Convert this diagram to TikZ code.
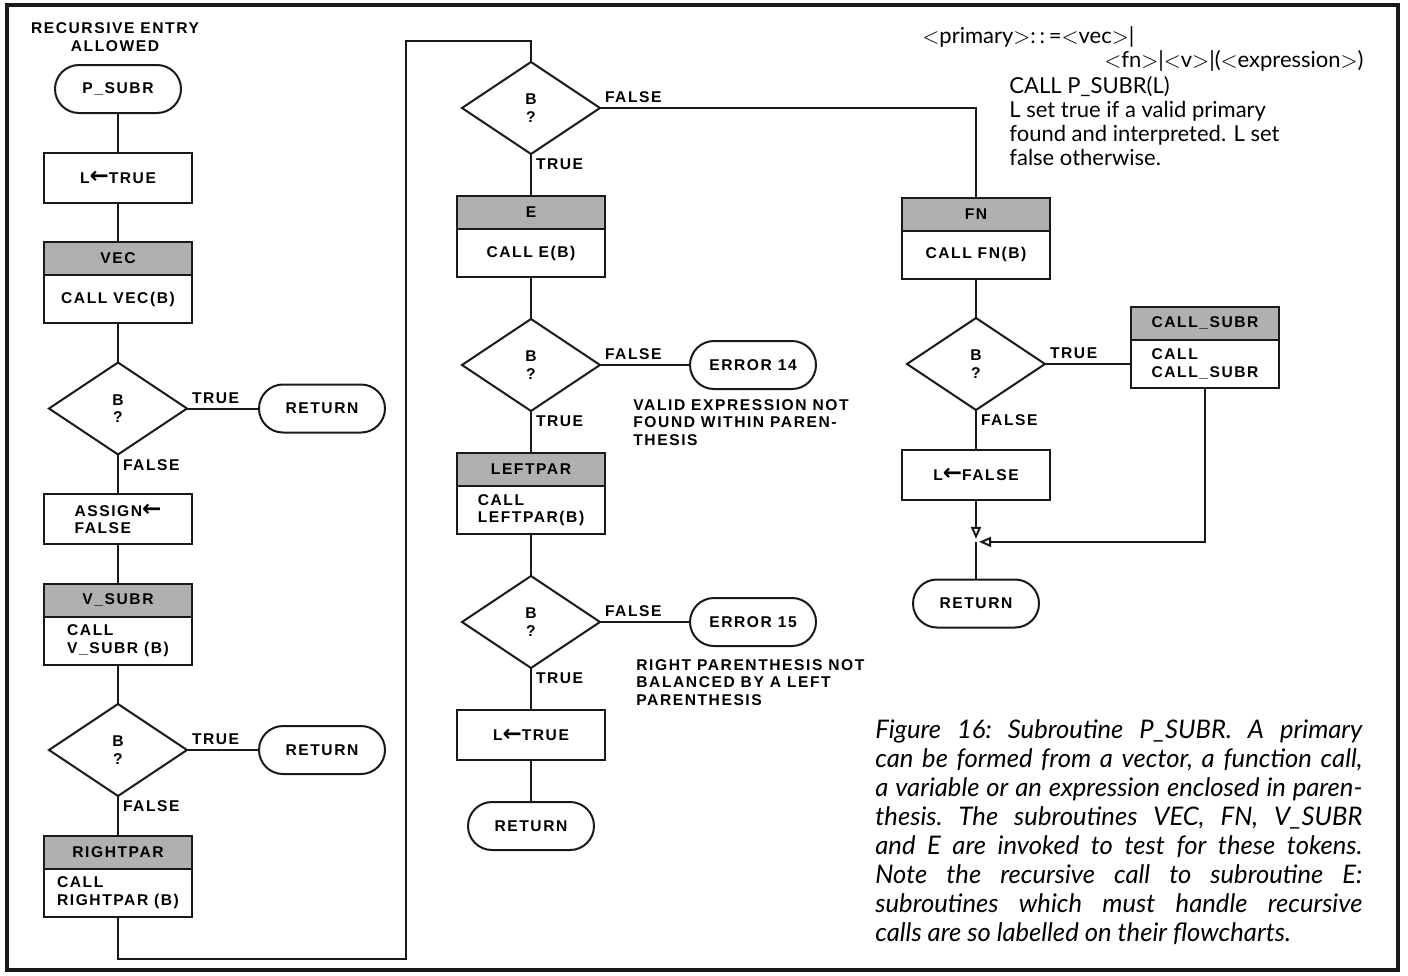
\documentclass[tikz,border=0pt]{standalone}
\usepackage{fontspec}
\newfontfamily\leroy[LetterSpace=10]{Liberation Sans}
\newfontfamily\arrowfont{DejaVu Sans}
\newfontfamily\humanist{Lato}
\usetikzlibrary{arrows.meta,positioning,shapes.geometric}
\definecolor{ink}{RGB}{25,25,25}
\definecolor{hdrgray}{RGB}{176,176,176}
\newcommand{\boxfont}{\leroy\bfseries\fontsize{7.8}{8.7}\selectfont}
\newcommand{\assignarrow}{\raisebox{-0.3pt}{\arrowfont\bfseries\fontsize{11.5}{9}\selectfont ←}}
\newcommand{\ang}[1]{$<$#1$>$}
\tikzset{
  term/.style={draw=ink,line width=1pt,rounded corners=12pt,minimum width=63pt,
    minimum height=24pt,inner sep=2pt,outer sep=0pt},
  proc/.style={draw=ink,line width=1pt,minimum width=74pt,minimum height=25pt,
    inner sep=2pt,align=left,outer sep=0pt},
  hdrbox/.style={proc,fill=hdrgray,minimum height=16.5pt},
  callbox/.style={proc,minimum height=24pt},
  dec/.style={draw=ink,line width=1pt,diamond,minimum width=69pt,minimum height=46pt,
    inner sep=0pt,align=center,outer sep=0pt},
  flow/.style={draw=ink,line width=1pt},
  ar/.style={flow,-{Triangle[open,length=6pt,width=5pt]},shorten >=1.5pt},
  tag/.style={inner sep=2pt},
  note/.style={align=left,inner sep=0pt},
  spec/.style={font=\humanist\fontsize{11}{12}\selectfont,inner sep=0pt},
  capt/.style={font=\humanist\itshape\fontsize{12.8}{14.5}\selectfont\frenchspacing,
    text width=243.5pt,align=justify,inner sep=0pt},
}

\begin{document}
\begin{tikzpicture}[x=0.5pt,y=-0.5pt,node distance=19.75pt,every node/.style={font=\boxfont}]
  \useasboundingbox (0,0) rectangle (1408,975);
  \draw[ink,line width=1.6pt] (7,5) rectangle (1398,970);

  % left column
  \node[note,align=center] (recur) at (115,37) {RECURSIVE ENTRY\\ALLOWED};
  \node[term] (start) at (118,89) {P\_SUBR};
  \node[proc,below=of start] (ltrue) {L\assignarrow TRUE};
  \node[hdrbox,below=of ltrue] (vech) {VEC};
  \node[callbox,below=0pt of vech] (vec) {CALL VEC(B)};
  \node[dec,below=of vec] (d1) {B\\?};
  \node[term,right=36pt of d1] (retvec) {RETURN};
  \node[proc,below=of d1] (assign) {ASSIGN\assignarrow\\FALSE};
  \node[hdrbox,below=of assign] (vsubh) {V\_SUBR};
  \node[callbox,below=0pt of vsubh] (vsub) {CALL\\V\_SUBR (B)};
  \node[dec,below=of vsub] (d2) {B\\?};
  \node[term,right=36pt of d2] (retvsub) {RETURN};
  \node[hdrbox,below=of d2] (rparh) {RIGHTPAR};
  \node[callbox,below=0pt of rparh] (rpar) {CALL\\RIGHTPAR (B)};

  % middle column
  \begin{scope}[node distance=21pt]
  \node[dec] (d3) at (531,108) {B\\?};
  \node[hdrbox,below=of d3] (eh) {E};
  \node[callbox,below=0pt of eh] (ecall) {CALL E(B)};
  \node[dec,below=of ecall] (d4) {B\\?};
  \node[term,right=45pt of d4] (err14) {ERROR 14};
  \node[note,anchor=north west] (msg14) at (633,399)
    {VALID EXPRESSION NOT\\FOUND WITHIN PAREN-\\THESIS};
  \node[hdrbox,below=of d4] (lparh) {LEFTPAR};
  \node[callbox,below=0pt of lparh] (lpar) {CALL\\LEFTPAR(B)};
  \node[dec,below=of lpar] (d5) {B\\?};
  \node[term,right=45pt of d5] (err15) {ERROR 15};
  \node[note,anchor=north west] (msg15) at (636,659)
    {RIGHT PARENTHESIS NOT\\BALANCED BY A LEFT\\PARENTHESIS};
  \node[proc,below=of d5] (ltrueE) {L\assignarrow TRUE};
  \node[term,below=of ltrueE] (retE) {RETURN};
  \end{scope}

  % right column
  \node[hdrbox] (fnh) at (976,214) {FN};
  \node[callbox,below=0pt of fnh] (fn) {CALL FN(B)};
  \node[dec,below=of fn] (d6) {B\\?};
  \node[callbox,right=43pt of d6] (csub) {CALL\\CALL\_SUBR};
  \node[hdrbox,above=0pt of csub] (csubh) {CALL\_SUBR};
  \node[proc,below=of d6] (lfalse) {L\assignarrow FALSE};
  \node[term,below=40pt of lfalse] (retFN) {RETURN};
  \path (lfalse.south) -- coordinate[pos=0.53] (join) (retFN.north);

  % text
  \node[spec,anchor=west] (bnfA) at (922,37) {\ang{primary}:\,:\,=\ang{vec}|};
  \node[spec,anchor=east] (bnfB) at (1364,61) {\ang{fn}|\ang{v}|(\ang{expression})};
  \node[spec,anchor=north west,align=left] (usage) at (1009,76)
    {CALL P\_SUBR(L)\\L set true if a valid primary\\found and interpreted. L set\\false otherwise.};
  \node[capt,anchor=north west] (cap) at (875,719)
    {Figure 16: Subroutine P\_SUBR. A primary\linebreak
     can be formed from a vector, a function call,\linebreak
     a variable or an expression enclosed in paren-\linebreak
     thesis. The subroutines VEC, FN, V\_SUBR\linebreak
     and E are invoked to test for these tokens.\linebreak
     Note the recursive call to subroutine E:\linebreak
     subroutines which must handle recursive\linebreak
     calls are so labelled on their flowcharts.};

  % connectors
  \draw[flow] (start) -- (ltrue);
  \draw[flow] (ltrue) -- (vech);
  \draw[flow] (vec) -- (d1);
  \draw[flow] (d1) -- node[tag,pos=0,above right]{TRUE} (retvec);
  \draw[flow] (d1) -- node[tag,pos=0,below right]{FALSE} (assign);
  \draw[flow] (assign) -- (vsubh);
  \draw[flow] (vsub) -- (d2);
  \draw[flow] (d2) -- node[tag,pos=0,above right]{TRUE} (retvsub);
  \draw[flow] (d2) -- node[tag,pos=0,below right]{FALSE} (rparh);
  \coordinate (loopB) at (406,959);
  \coordinate (loopT) at (406,41);
  \draw[flow] (rpar) |- (loopB) -- (loopT) -| (d3);
  \draw[flow] (d3) -| node[tag,pos=0,above right]{FALSE} (fnh);
  \draw[flow] (d3) -- node[tag,pos=0,below right]{TRUE} (eh);
  \draw[flow] (ecall) -- (d4);
  \draw[flow] (d4) -- node[tag,pos=0,above right]{FALSE} (err14);
  \draw[flow] (d4) -- node[tag,pos=0,below right]{TRUE} (lparh);
  \draw[flow] (lpar) -- (d5);
  \draw[flow] (d5) -- node[tag,pos=0,above right]{FALSE} (err15);
  \draw[flow] (d5) -- node[tag,pos=0,below right]{TRUE} (ltrueE);
  \draw[flow] (ltrueE) -- (retE);
  \draw[flow] (fn) -- (d6);
  \draw[flow] (d6) -- node[tag,pos=0,above right]{TRUE} (csub);
  \draw[flow] (d6) -- node[tag,pos=0,below right]{FALSE} (lfalse);
  \draw[ar] (lfalse) -- (join);
  \draw[ar] (csub) |- (join);
  \draw[flow] (join) -- (retFN);
\end{tikzpicture}
\end{document}
